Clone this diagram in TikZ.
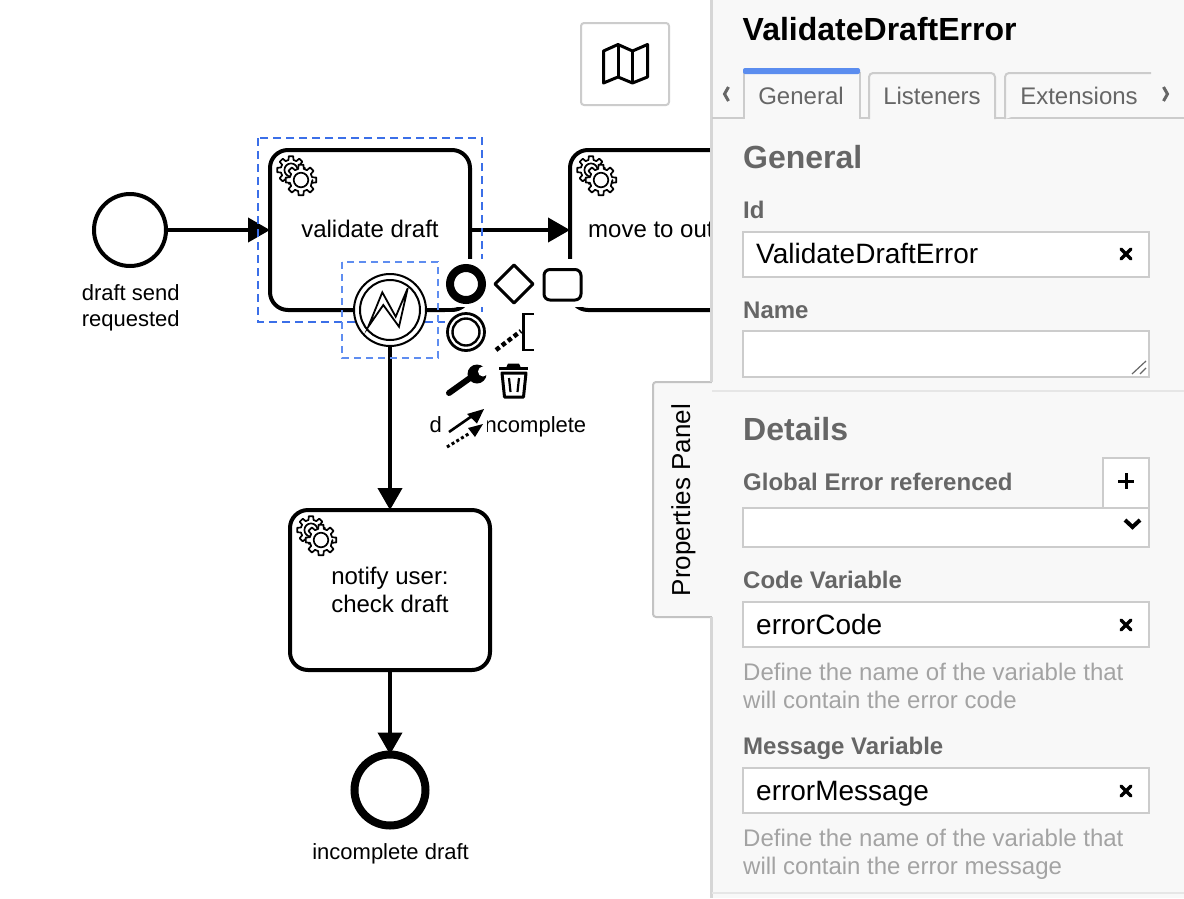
\documentclass[tikz,border=0pt]{standalone}
\usepackage{fontspec}
\setmainfont{Liberation Sans}
\usetikzlibrary{arrows.meta}
\definecolor{panelbg}{HTML}{F8F8F8}
\definecolor{panelline}{HTML}{CCCCCC}
\definecolor{shadowline}{HTML}{D6D6D6}
\definecolor{softline}{HTML}{E6E6E6}
\definecolor{headgrey}{HTML}{666666}
\definecolor{helpgrey}{HTML}{A3A3A3}
\definecolor{selblue}{HTML}{3B6FE8}
\definecolor{selblueb}{HTML}{5F8DF0}
\definecolor{tabblue}{HTML}{5B8DEF}
\newcommand{\fs}[1]{\fontsize{#1}{#1}\selectfont}
\tikzset{
  x=1pt,y=-1pt,
  task/.style={draw=black,line width=4pt,fill=white,rounded corners=18pt,minimum width=200pt,minimum height=160pt,inner sep=0pt,outer sep=0pt,align=center,font=\fs{24}},
  startev/.style={circle,draw=black,line width=4pt,fill=white,minimum size=72pt,inner sep=0pt,outer sep=0pt},
  endev/.style={circle,draw=black,line width=8pt,fill=white,minimum size=71pt,inner sep=0pt,outer sep=0pt},
  boundev/.style={circle,draw=black,line width=2pt,fill=white,minimum size=72pt,inner sep=0pt,outer sep=0pt},
  boundin/.style={circle,draw=black,line width=2pt,fill=white,minimum size=60pt,inner sep=0pt,outer sep=0pt},
  flow/.style={draw=black,line width=4pt,-{Triangle[length=22pt,width=24pt]}},
  evlabel/.style={align=center,inner sep=0pt,font=\fs{22},anchor=base},
  sel/.style={draw=selblue,line width=2pt,dash pattern=on 8pt off 5pt},
  selb/.style={draw=selblueb,line width=2pt,dash pattern=on 7pt off 5pt},
  padwhite/.style={fill=white,draw=none},
  ptxt/.style={anchor=base west,inner sep=0pt},
  phead/.style={ptxt,font=\fs{32}\bfseries,text=headgrey},
  plabel/.style={ptxt,font=\fs{24}\bfseries,text=headgrey},
  pvalue/.style={ptxt,font=\fs{28},text=black},
  phelp/.style={ptxt,font=\fs{24},text=helpgrey},
  ptab/.style={anchor=base,inner sep=0pt,font=\fs{24},text=headgrey},
  pfield/.style={draw=panelline,line width=2pt,fill=white},
  tabshape/.style={draw=panelline,line width=2pt,fill=panelbg,rounded corners=4pt},
  pmark/.style={line width=3.4pt,line cap=round},
  gearshape/.pic={
    \begin{scope}[x=1pt,y=1pt]
    \draw[line width=1.7pt,fill=white,line join=round]
      (0:#1*0.74)
      \foreach \a in {0,45,...,315}{
        -- (\a-14:#1*0.74) -- (\a-9:#1) -- (\a+9:#1) -- (\a+14:#1*0.74)
      } -- cycle;
    \draw[line width=1.7pt,fill=white] (0,0) circle[radius=#1*0.47];
    \end{scope}
  },
}
\newcommand{\twogears}[2]{%
  \pic at (#1-10,#2-10) {gearshape=14};
  \pic at (#1,#2) {gearshape=15.5};
}
\begin{document}
\begin{tikzpicture}
\useasboundingbox (0,0) rectangle (1184,898);
\fill[white] (0,0) rectangle (1184,898);

% canvas
\node[startev] (start) at (130,230) {};
\node[evlabel] (startlabel) at (130.7,300) {draft send};
\node[evlabel] (startlabelb) at (130.7,326) {requested};
\node[task] (validate) at (370,230) {};
\node[anchor=base,inner sep=0pt,font=\fs{24}] (validatetxt) at (370,237) {validate draft};
\node[task] (move) at (670,230) {};
\node[anchor=base west,inner sep=0pt,font=\fs{24}] (movetxt) at (588,237) {move to out};
\node[task] (notify) at (390,590) {};
\node[anchor=base,inner sep=0pt,font=\fs{24}] (notifytxt) at (390,584) {notify user:};
\node[anchor=base,inner sep=0pt,font=\fs{24}] (notifytxtb) at (390,612) {check draft};
\node[endev] (finish) at (390,790) {};
\node[evlabel] (finishlabel) at (390.6,859) {incomplete draft};
\node[evlabel] (boundlabel) at (508,432) {draft incomplete};

\twogears{301}{180}
\twogears{601}{180}
\twogears{321}{540}

\draw[flow] (start) -- (validate);
\draw[flow] (validate) -- (move);
\draw[flow] (notify) -- (finish);

\node[draw=none,minimum width=224pt,minimum height=184pt,inner sep=0pt,outer sep=0pt] (selA) at (370,230) {};
\draw[sel] (selA.north west) rectangle (selA.south east);

\node[boundev] (bound) at (390,310) {};
\node[boundin] (boundi) at (390,310) {};
\draw[flow] (bound) -- (notify);
\draw[line width=1.8pt,fill=white,line join=miter]
  (368.3,326.7) -- (382.3,292.3) -- (395.7,316.7) -- (407.7,288.3) -- (399,326.7) -- (383.3,305) -- cycle;
\node[draw=none,minimum width=96pt,minimum height=96pt,inner sep=0pt,outer sep=0pt] (selB) at (390,310) {};
\draw[selb] (selB.north west) rectangle (selB.south east);

% context pad
\fill[padwhite] (445,259) rectangle (584,307);
\fill[padwhite] (445,312) rectangle (536,356);
\fill[padwhite] (445,358) rectangle (536,404);
\fill[padwhite] (442.5,405) rectangle (487,452);

\node[circle,draw=black,line width=8pt,minimum size=32pt,inner sep=0pt] (padend) at (466,284) {};
\draw[line width=3pt,line join=round] (514,265) -- (533,284) -- (514,303) -- (495,284) -- cycle;
\draw[line width=3pt,rounded corners=6pt] (544,269.5) rectangle (581,300);
\node[circle,draw=black,line width=2.8pt,minimum size=37pt,inner sep=0pt] (padinter) at (466,332) {};
\node[circle,draw=black,line width=2.4pt,minimum size=27pt,inner sep=0pt] (padinterb) at (466,332) {};
\draw[line width=4.5pt,dash pattern=on 4.5pt off 3pt] (496,350) -- (521,331);
\draw[line width=2.6pt] (534,314) -- (523.5,314) -- (523.5,350) -- (534,350);
% wrench
\fill[black] (477,374) circle[radius=9.5];
\fill[white] (483,371.5) circle[radius=5];
\fill[white] (484,367) rectangle (492,375);
\draw[line width=6pt,line cap=round] (449,393) -- (470,378);
% trash
\draw[line width=3pt] (499,368.5) -- (528,368.5);
\fill[black] (506,368) -- (508,363.5) -- (519,363.5) -- (521,368) -- cycle;
\draw[line width=3pt,line join=round] (502,373) -- (526,373) -- (523.5,397) -- (504.5,397) -- cycle;
\draw[line width=2.2pt] (509,378) -- (510.5,392);
\draw[line width=2.2pt] (519,378) -- (517.5,392);
% connect arrows
\draw[line width=2.6pt] (449,432) -- (472,416);
\fill[black] (484,409) -- (467,414) -- (477,423.5) -- cycle;
\draw[line width=3pt,dash pattern=on 3pt off 2.5pt] (447,447) -- (470,433);
\fill[black] (483,424) -- (468,428) -- (475,437) -- cycle;

% minimap toggle
\draw[draw=panelline,line width=2pt,fill=white,rounded corners=3pt] (581,23) rectangle (669,105);
\draw[line width=3pt,line join=round] (603.5,51) -- (618,44.5) -- (632.5,51) -- (647.5,44.5) -- (647.5,77) -- (632.5,83) -- (618,77) -- (603.5,83) -- cycle;
\draw[line width=3pt] (618,44.5) -- (618,77);
\draw[line width=3pt] (632.5,51) -- (632.5,83);

% side tab
\draw[draw=softline!85!black,line width=2pt,fill=panelbg,rounded corners=3pt] (716,382) -- (653,382) -- (653,617) -- (716,617);

% panel
\fill[panelbg] (712,0) rectangle (1184,898);
\fill[shadowline] (710,0) rectangle (713,382);
\fill[shadowline] (710,617) rectangle (713,898);
\fill[panelbg] (712,383) rectangle (714,616);
\node[anchor=center,rotate=90,inner sep=0pt,font=\fs{26}] (paneltab) at (683.5,500) {Properties Panel};

\node[ptxt,font=\fs{32}\bfseries] (title) at (742.5,40) {ValidateDraftError};

% tabs
\draw[draw=panelline,line width=2pt] (712,118) -- (1184,118);
\draw[tabshape] (869,119) -- (869,73) -- (995,73) -- (995,119);
\draw[tabshape] (1005,119) -- (1005,73) -- (1151,73);
\fill[panelbg] (745,70) rectangle (859,120);
\draw[draw=panelline,line width=2pt] (744,119) -- (744,72);
\draw[draw=panelline,line width=2pt] (860,72) -- (860,119);
\fill[tabblue,rounded corners=2pt] (743,68) rectangle (860,74);
\node[ptab] (tabgen) at (801,104) {General};
\node[ptab] (tablis) at (932,104) {Listeners};
\node[ptab] (tabext) at (1079,104) {Extensions};
\draw[draw=headgrey,line width=3pt] (728.5,87) -- (724.5,94) -- (728.5,101);
\draw[draw=headgrey,line width=3pt] (1163.5,87) -- (1167.5,94) -- (1163.5,101);

\node[phead] (hgen) at (743,168) {General};
\node[plabel] (lid) at (743,218) {Id};
\draw[pfield] (743,231.5) rectangle (1149,276.5);
\node[pvalue] (vid) at (756,263) {ValidateDraftError};
\draw[pmark] (1121,249) -- (1131,259);
\draw[pmark] (1131,249) -- (1121,259);
\node[plabel] (lname) at (743,318) {Name};
\draw[pfield] (743,331) rectangle (1149,377);
\draw[draw=headgrey,line width=1.2pt] (1132,374) -- (1146,361);
\draw[draw=headgrey,line width=1.2pt] (1140,374) -- (1146,368);
\draw[draw=softline,line width=2pt] (712,391) -- (1184,391);

\node[phead] (hdet) at (743,440) {Details};
\node[plabel] (lglobal) at (743,490) {Global Error referenced};
\draw[pfield] (1103,458) rectangle (1149,508);
\draw[line width=3pt] (1118,481) -- (1134,481);
\draw[line width=3pt] (1126,473) -- (1126,489);
\draw[pfield] (743,508) rectangle (1149,547);
\draw[line width=4pt,line join=miter] (1125,520) -- (1132.5,527) -- (1140,520);
\node[plabel] (lcode) at (743,588) {Code Variable};
\draw[pfield] (743,601.5) rectangle (1149,647);
\node[pvalue] (vcode) at (756,634) {errorCode};
\draw[pmark] (1121,620) -- (1131,630);
\draw[pmark] (1131,620) -- (1121,630);
\node[phelp] (hcode) at (743,680) {Define the name of the variable that};
\node[phelp] (hcodeb) at (743,708) {will contain the error code};
\node[plabel] (lmsg) at (743,754) {Message Variable};
\draw[pfield] (743,767.5) rectangle (1149,813);
\node[pvalue] (vmsg) at (756,800) {errorMessage};
\draw[pmark] (1121,786) -- (1131,796);
\draw[pmark] (1131,786) -- (1121,796);
\node[phelp] (hmsg) at (743,846) {Define the name of the variable that};
\node[phelp] (hmsgb) at (743,874) {will contain the error message};
\draw[draw=softline,line width=2pt] (712,893) -- (1184,893);
\end{tikzpicture}
\end{document}
